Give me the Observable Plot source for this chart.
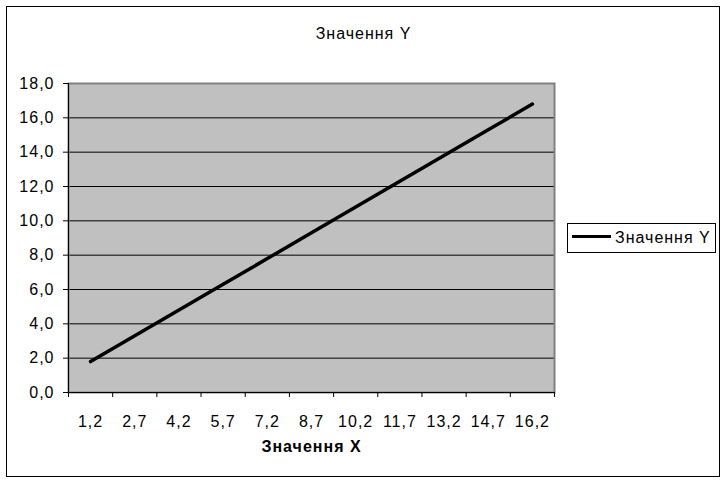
<!DOCTYPE html>
<html>
<head>
<meta charset="utf-8">
<script src="https://cdn.jsdelivr.net/npm/d3@7"></script>
<script src="https://cdn.jsdelivr.net/npm/@observablehq/plot@0.6"></script>
<style>
  html, body { margin: 0; padding: 0; background: white; }
  #wrap { position: relative; width: 726px; height: 481px; overflow: hidden; font-family: "Liberation Sans", Arial, sans-serif; }
  #wrap svg { position: absolute; left: 0; top: 0; }
  #wrap svg text { letter-spacing: 1px; }
  #border { position: absolute; left: 6px; top: 6px; width: 712px; height: 469px; border: 1px solid black; pointer-events: none; }
  #legend { position: absolute; left: 567px; top: 223px; width: 147px; height: 28px; border: 1px solid black; background: white; font-size: 16px; letter-spacing: 1px; }
  #legend .sw { position: absolute; left: 4px; top: 11px; width: 39px; height: 3px; background: black; }
  #legend .lb { position: absolute; left: 47px; top: 5px; line-height: 18px; white-space: nowrap; }
</style>
</head>
<body>
<div id="wrap"><div id="border"></div></div>
<script>
const title = "Значення Y";
const xTitle = "Значення X";
const seriesName = "Значення Y";
const xValues = [1.2, 2.7, 4.2, 5.7, 7.2, 8.7, 10.2, 11.7, 13.2, 14.7, 16.2];
const yValues = [1.8, 3.3, 4.8, 6.3, 7.8, 9.3, 10.8, 12.3, 13.8, 15.3, 16.8];
const yTicks = [0, 2, 4, 6, 8, 10, 12, 14, 16, 18];

const half = (xValues[1] - xValues[0]) / 2;
const boundaries = xValues.map(v => v - half).concat([xValues[xValues.length - 1] + half]);
const data = xValues.map((x, i) => ({x, y: yValues[i]}));
const comma = d => d.toFixed(1).replace(".", ",");

const chart = Plot.plot({
  width: 726,
  height: 481,
  marginLeft: 68,
  marginRight: 172,
  marginTop: 83,
  marginBottom: 89,
  x: {domain: [boundaries[0], boundaries[boundaries.length - 1]]},
  y: {domain: [0, 18]},
  style: {fontFamily: "'Liberation Sans', Arial, sans-serif", fontSize: "16px", color: "black", background: "transparent", overflow: "visible"},
  marks: [
    Plot.frame({fill: "#c0c0c0"}),
    Plot.ruleY(yTicks.slice(1), {stroke: "black", strokeWidth: 1}),
    Plot.frame({stroke: "#808080", strokeWidth: 2}),
    Plot.ruleX([boundaries[0]], {stroke: "black", strokeWidth: 1}),
    Plot.ruleY([0], {stroke: "black", strokeWidth: 1}),
    Plot.axisY({ticks: yTicks, tickSize: 5, tickPadding: 9, tickFormat: comma, label: null, fontSize: 16}),
    Plot.axisX({ticks: boundaries, tickSize: 5, tickFormat: () => "", label: null}),
    Plot.axisX({ticks: xValues, tickSize: 0, tickPadding: 23, tickFormat: comma, label: null, fontSize: 16}),
    Plot.line(data, {x: "x", y: "y", stroke: "black", strokeWidth: 3.5}),
    Plot.text([title], {frameAnchor: "top", dx: 52, dy: -50, lineAnchor: "middle", fontSize: 16}),
    Plot.text([xTitle], {frameAnchor: "bottom", dy: 54, lineAnchor: "middle", fontSize: 16, fontWeight: "bold"})
  ]
});

const wrap = document.getElementById("wrap");
wrap.insertBefore(chart, wrap.firstChild);
const legend = document.createElement("div");
legend.id = "legend";
legend.innerHTML = '<div class="sw"></div><div class="lb"></div>';
legend.querySelector(".lb").textContent = seriesName;
wrap.appendChild(legend);
</script>
</body>
</html>
